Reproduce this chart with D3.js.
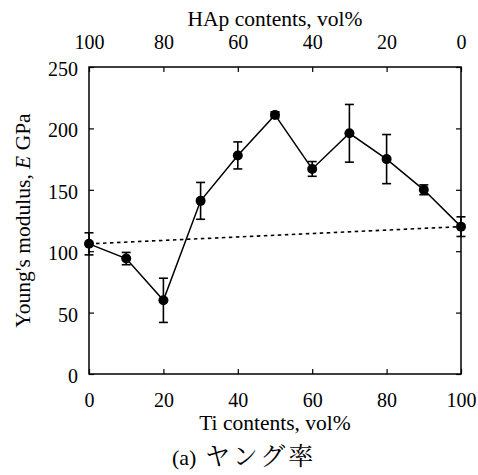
<!DOCTYPE html>
<html>
<head>
<meta charset="utf-8">
<script src="https://cdn.jsdelivr.net/npm/d3@7/dist/d3.min.js"></script>
<style>
  html, body { margin: 0; padding: 0; background: #fff; }
  svg { display: block; }
</style>
</head>
<body>
<svg id="chart" width="478" height="475"></svg>
<script>
// Ti content (vol%) of each composite
const tiContents = [0, 10, 20, 30, 40, 50, 60, 70, 80, 90, 100];
// Measured Young's modulus (GPa)
const youngsModulus = [106, 94, 60, 141, 178, 211, 167, 196, 175, 150, 120];
// Half-length of the error bars (GPa)
const modulusError = [9, 5, 18, 15, 11, 2.5, 6, 23.5, 20, 4, 8];
// Linear mixture line between the two end members
const mixtureX = [0, 100];
const mixtureY = [106, 120];

const xTicks = [0, 20, 40, 60, 80, 100];
const hapTicks = [100, 80, 60, 40, 20, 0];
const yTicks = [0, 50, 100, 150, 200, 250];

const SERIF = "'Liberation Serif', 'Times New Roman', serif";
const MINCHO = "'Noto Serif CJK JP', 'Liberation Serif', serif";

const svg = d3.select("#chart");
const plot = { left: 89, right: 461, top: 67, bottom: 374 };
const TICK_FS = 20, TITLE_FS = 21.5;

const x = d3.scaleLinear().domain([0, 100]).range([plot.left, plot.right]);
const xHap = d3.scaleLinear().domain([100, 0]).range([plot.left, plot.right]);
const y = d3.scaleLinear().domain([0, 250]).range([plot.bottom, plot.top]);

const tickLen = 5;

function styleAxis(g) {
  g.attr("font-family", null).attr("font-size", null);
  g.select(".domain").remove();
  g.selectAll(".tick line").attr("stroke", "#000").attr("stroke-width", 1.2);
  g.selectAll(".tick text")
    .style("font-family", SERIF).style("font-size", TICK_FS + "px").attr("fill", "#000");
}

// bottom axis: inward ticks, labels below
svg.append("g").attr("transform", `translate(0,${plot.bottom})`)
  .call(d3.axisBottom(x).tickValues(xTicks).tickSize(-tickLen).tickFormat(d3.format("d")))
  .call(styleAxis)
  .call(g => g.selectAll(".tick text").attr("dy", null).attr("y", 33));

// top axis (HAp)
svg.append("g").attr("transform", `translate(0,${plot.top})`)
  .call(d3.axisTop(xHap).tickValues(hapTicks).tickSize(-tickLen).tickFormat(d3.format("d")))
  .call(styleAxis)
  .call(g => g.selectAll(".tick text").attr("dy", null).attr("y", -18));

// left axis
svg.append("g").attr("transform", `translate(${plot.left},0)`)
  .call(d3.axisLeft(y).tickValues(yTicks).tickSize(-tickLen).tickFormat(d3.format("d")))
  .call(styleAxis)
  .call(g => g.selectAll(".tick text").attr("x", -11).attr("dy", "0.42em"));

// right axis ticks only
svg.append("g").attr("transform", `translate(${plot.right},0)`)
  .call(d3.axisRight(y).tickValues(yTicks).tickSize(-tickLen).tickFormat(""))
  .call(styleAxis);

// frame
svg.append("rect")
  .attr("x", plot.left).attr("y", plot.top)
  .attr("width", plot.right - plot.left).attr("height", plot.bottom - plot.top)
  .attr("fill", "none").attr("stroke", "#000").attr("stroke-width", 1.5);

// dotted mixture line
svg.append("path")
  .datum(mixtureX.map((d, i) => [d, mixtureY[i]]))
  .attr("d", d3.line().x(d => x(d[0])).y(d => y(d[1])))
  .attr("fill", "none").attr("stroke", "#000")
  .attr("stroke-width", 1.6).attr("stroke-dasharray", "3.5,3.5");

const pts = tiContents.map((d, i) => ({ t: d, e: youngsModulus[i], err: modulusError[i] }));

// measured data line
svg.append("path")
  .datum(pts)
  .attr("d", d3.line().x(d => x(d.t)).y(d => y(d.e)))
  .attr("fill", "none").attr("stroke", "#000").attr("stroke-width", 1.5);

// error bars
const cap = 4.5;
const eb = svg.append("g").attr("stroke", "#000").attr("stroke-width", 1.6);
pts.forEach(d => {
  const cx = x(d.t), y1 = y(d.e + d.err), y0 = y(d.e - d.err);
  eb.append("line").attr("x1", cx).attr("x2", cx).attr("y1", y1).attr("y2", y0);
  eb.append("line").attr("x1", cx - cap).attr("x2", cx + cap).attr("y1", y1).attr("y2", y1);
  eb.append("line").attr("x1", cx - cap).attr("x2", cx + cap).attr("y1", y0).attr("y2", y0);
});

// markers
svg.append("g").selectAll("circle").data(pts).join("circle")
  .attr("cx", d => x(d.t)).attr("cy", d => y(d.e)).attr("r", 5).attr("fill", "#000");

// axis titles
const titleStyle = (sel) => sel.style("font-family", SERIF).style("font-size", TITLE_FS + "px").attr("fill", "#000");

svg.append("text").attr("x", (plot.left + plot.right) / 2).attr("y", 26)
  .attr("text-anchor", "middle").call(titleStyle).text("HAp contents, vol%");

svg.append("text").attr("x", (plot.left + plot.right) / 2).attr("y", 430)
  .attr("text-anchor", "middle").call(titleStyle).text("Ti contents, vol%");

const yl = svg.append("text")
  .attr("transform", `translate(30,${(plot.top + plot.bottom) / 2}) rotate(-90)`)
  .attr("text-anchor", "middle").call(titleStyle);
yl.append("tspan").text("Young's modulus, ");
yl.append("tspan").style("font-style", "italic").text("E");
yl.append("tspan").text(" GPa");

// figure caption
const capText = svg.append("text").attr("x", 172).attr("y", 465)
  .style("font-family", SERIF).style("font-size", "22px").attr("fill", "#000");
capText.append("tspan").text("(a)");
capText.append("tspan").attr("x", 205).attr("letter-spacing", 3)
  .style("font-family", MINCHO).style("font-size", "25px").text("ヤング率");
</script>
</body>
</html>
